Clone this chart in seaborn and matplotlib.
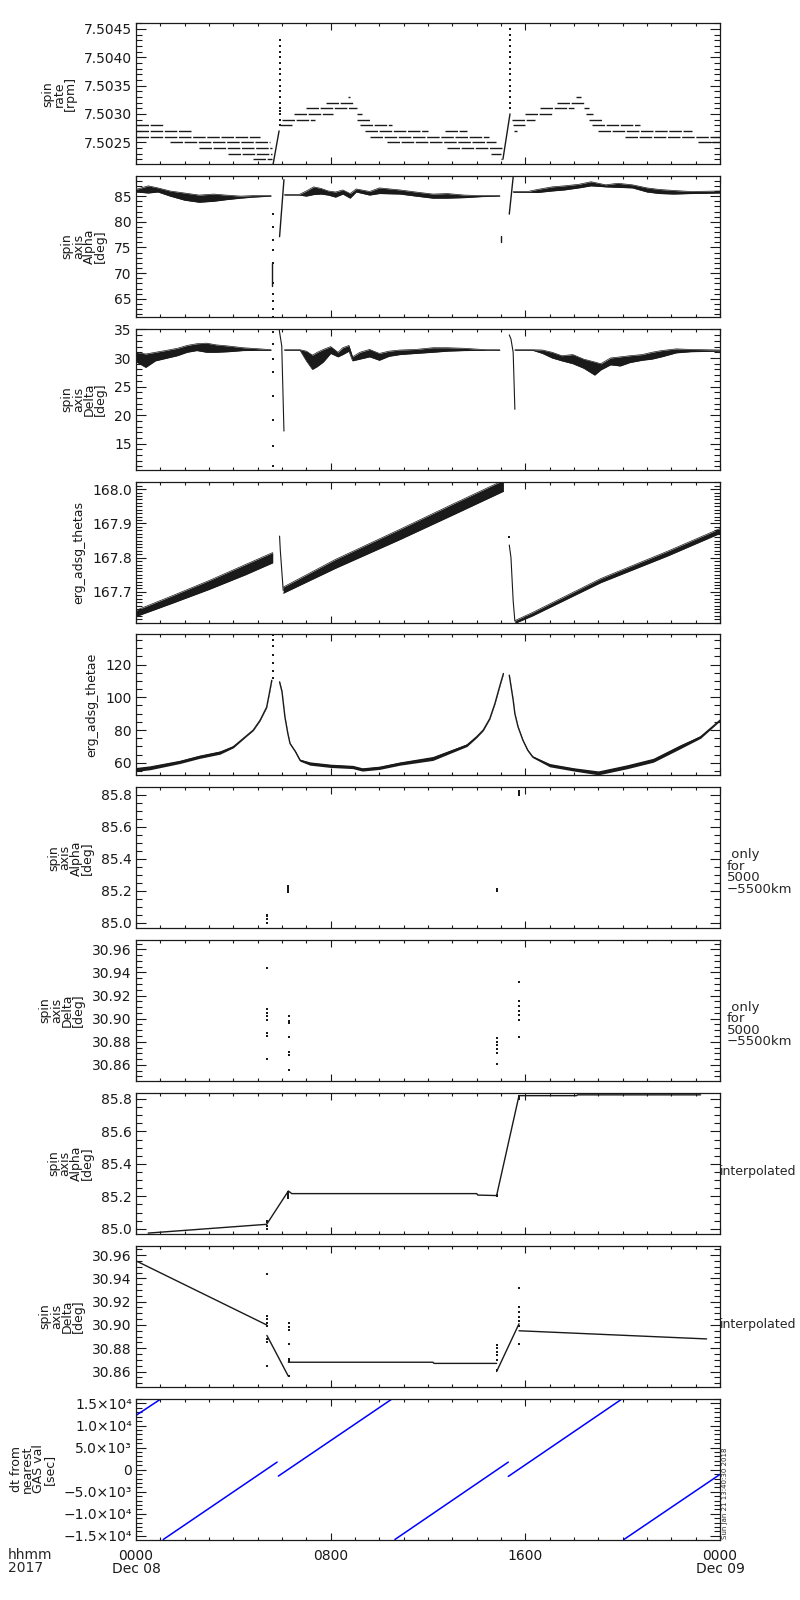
import numpy as np
import pandas as pd
import matplotlib
matplotlib.use("Agg")
import matplotlib.pyplot as plt
import seaborn as sns
from matplotlib.ticker import MultipleLocator, FormatStrFormatter, FixedLocator, FixedFormatter

# ---------------- DATA (hours since 2017-12-08 00:00) ----------------
# Panel 1: spin rate [rpm] quantised levels (level, start hour, end hour)
p1_level = [7.5028, 7.5027, 7.5026, 7.5025, 7.5024, 7.5023, 7.5022,
            7.5028, 7.5029, 7.5030, 7.5031, 7.5032, 7.5033, 7.5030, 7.5029, 7.5028,
            7.5027, 7.5027, 7.5026, 7.5025, 7.5024, 7.5023, 7.5022,
            7.5029, 7.5028, 7.5027, 7.5030, 7.5031, 7.5032, 7.5033, 7.5031, 7.5030,
            7.5029, 7.5028, 7.5027, 7.5026, 7.5025]
p1_start = [0.0, 0.0, 0.0, 1.4, 2.6, 3.8, 4.8,
            5.9, 6.0, 6.5, 7.0, 7.8, 8.7, 9.1, 9.1, 9.2,
            9.4, 12.7, 9.6, 10.3, 12.8, 14.6, 15.0,
            15.45, 15.5, 15.55, 16.0, 16.6, 17.3, 18.1, 18.4, 18.5,
            18.6, 18.75, 19.0, 20.1, 23.1]
p1_end = [1.1, 2.3, 5.1, 5.5, 5.6, 5.6, 5.6,
          6.4, 7.35, 8.1, 9.1, 8.95, 8.8, 9.3, 9.6, 10.5,
          12.0, 13.6, 14.5, 14.8, 15.1, 15.0, 15.06,
          16.4, 16.0, 15.65, 17.1, 18.0, 18.45, 18.3, 18.6, 18.8,
          19.2, 20.7, 22.85, 24.0, 24.0]
p1_ramp1_h = [5.63, 5.88]
p1_ramp1_v = [7.5021, 7.5027]
p1_ramp2_h = [15.08, 15.37]
p1_ramp2_v = [7.5022, 7.5030]
p1_spike1_h = 5.92
p1_spike1_v = [7.5028, 7.5029, 7.5030, 7.50305, 7.5031, 7.5032, 7.5033, 7.5034, 7.5035,
               7.5036, 7.5037, 7.5038, 7.5039, 7.5040, 7.5041, 7.5042, 7.5043]
p1_spike2_h = 15.37
p1_spike2_v = [7.5031, 7.5032, 7.5033, 7.5034, 7.5035, 7.5036, 7.5037, 7.5038, 7.5039,
               7.5040, 7.5041, 7.5042, 7.5043, 7.5044, 7.5045, 7.5046]

# Panel 2: spin axis Alpha [deg], noisy band envelopes
p2a_h = [0.0, 0.5, 0.9, 1.4, 2.0, 2.6, 3.2, 3.7, 4.3, 4.8, 5.55]
p2a_lo = [85.8, 85.6, 85.8, 85.0, 84.2, 83.8, 84.0, 84.3, 84.6, 84.8, 85.0]
p2a_hi = [86.3, 87.0, 86.6, 86.0, 85.6, 85.2, 85.4, 85.2, 85.0, 85.1, 85.1]
p2_drop_h = 5.62
p2_drop_v = [61.5, 63.0, 64.5, 66.0, 68.0, 72.0, 74.5, 76.5, 79.0, 81.5]
p2_ramp1_h = [5.9, 6.08]
p2_ramp1_v = [77.1, 88.2]
p2b_h = [6.1, 6.7, 7.0, 7.3, 7.6, 7.9, 8.2, 8.5, 8.8, 9.05, 9.6, 10.0, 10.85,
         11.5, 12.2, 12.8, 13.5, 14.2, 14.95]
p2b_lo = [85.2, 85.2, 85.0, 85.3, 85.4, 85.2, 84.8, 85.4, 84.6, 85.8, 85.2, 85.5, 85.4,
          85.0, 84.6, 84.6, 84.7, 84.9, 85.0]
p2b_hi = [85.3, 85.3, 86.0, 86.8, 86.5, 86.0, 85.8, 86.2, 85.5, 86.4, 85.9, 86.6, 86.2,
          85.8, 85.4, 85.5, 85.2, 85.1, 85.1]
p2_mark_h = [15.0, 15.0]
p2_mark_v = [76.0, 77.2]
p2_ramp2_h = [15.34, 15.5]
p2_ramp2_v = [81.5, 88.7]
p2c_h = [15.5, 16.1, 16.5, 17.1, 17.6, 18.2, 18.7, 19.3, 19.8, 20.4, 21.0, 21.5,
         22.1, 22.8, 24.0]
p2c_lo = [85.75, 85.75, 85.7, 86.0, 86.2, 86.6, 87.0, 86.8, 86.7, 86.6, 85.8, 85.5,
          85.4, 85.5, 85.6]
p2c_hi = [85.9, 85.9, 86.3, 86.8, 87.0, 87.3, 87.8, 87.2, 87.5, 87.2, 86.6, 86.3,
          86.1, 85.9, 86.0]

# Panel 3: spin axis Delta [deg]
p3a_h = [0.0, 0.4, 0.8, 1.2, 1.7, 2.1, 2.5, 2.9, 3.3, 3.8, 4.4, 5.1, 5.55]
p3a_lo = [29.35, 28.35, 29.5, 29.9, 30.4, 31.0, 31.3, 31.0, 31.0, 31.1, 31.3, 31.35, 31.35]
p3a_hi = [31.0, 30.7, 31.0, 31.3, 31.7, 32.2, 32.5, 32.6, 32.3, 32.1, 31.8, 31.6, 31.45]
p3_drop_h = 5.62
p3_drop_v = [34.5, 32.5, 29.8, 27.5, 23.4, 19.2, 14.5, 11.0]
p3_fall1_h = [5.88, 5.99, 6.08]
p3_fall1_v = [35.1, 32.1, 17.2]
p3b_h = [6.1, 6.74, 7.0, 7.25, 7.45, 7.7, 8.0, 8.3, 8.5, 8.75, 8.9, 9.2, 9.6, 10.0,
         10.4, 10.85, 11.5, 12.2, 12.8, 13.5, 14.4, 14.95]
p3b_lo = [31.35, 31.35, 29.5, 28.0, 28.5, 29.3, 30.8, 30.2, 30.6, 31.2, 29.5, 29.8,
          30.2, 29.6, 30.3, 30.6, 30.8, 31.0, 31.2, 31.3, 31.35, 31.35]
p3b_hi = [31.45, 31.45, 31.2, 30.5, 31.0, 31.5, 32.0, 31.0, 31.8, 32.2, 30.2, 31.0,
          31.5, 30.8, 31.2, 31.4, 31.5, 31.8, 31.8, 31.7, 31.45, 31.45]
p3_fall2_h = [15.34, 15.41, 15.5, 15.57]
p3_fall2_v = [34.05, 33.3, 31.0, 21.0]
p3c_h = [15.57, 16.3, 16.7, 17.1, 17.5, 17.95, 18.4, 18.85, 19.1, 19.5, 19.9, 20.3,
         20.8, 21.2, 21.6, 22.2, 22.8, 24.0]
p3c_lo = [31.35, 31.35, 30.8, 30.0, 29.5, 29.0, 28.2, 27.0, 27.9, 28.8, 28.6, 29.2,
          29.6, 29.8, 30.2, 30.9, 31.1, 31.2]
p3c_hi = [31.45, 31.45, 31.4, 31.0, 30.4, 30.6, 29.8, 29.3, 29.0, 30.0, 30.2, 30.4,
          30.6, 31.0, 31.3, 31.6, 31.5, 31.4]

# Panel 4: erg_adsg_thetas (centre and half-width of the noisy band)
p4a_h = [0.0, 1.5, 3.0, 4.5, 5.62]
p4a_c = [167.637, 167.678, 167.720, 167.765, 167.800]
p4a_w = [0.009, 0.011, 0.013, 0.015, 0.015]
p4_fall1_h = [5.9, 5.93, 6.0, 6.05]
p4_fall1_v = [167.863, 167.822, 167.753, 167.704]
p4b_h = [6.05, 8.2, 10.85, 13.0, 15.1]
p4b_c = [167.705, 167.782, 167.868, 167.940, 168.010]
p4b_w = [0.009, 0.013, 0.015, 0.016, 0.016]
p4_dot2 = (15.34, 167.86)
p4_fall2_h = [15.34, 15.41, 15.5, 15.57]
p4_fall2_v = [167.837, 167.800, 167.674, 167.615]
p4c_h = [15.57, 16.3, 19.1, 21.85, 24.0]
p4c_c = [167.612, 167.635, 167.733, 167.812, 167.878]
p4c_w = [0.004, 0.005, 0.006, 0.007, 0.007]

# Panel 5: erg_adsg_thetae
p5a_h = [0.0, 0.57, 1.8, 2.6, 3.45, 4.0, 4.5, 4.82, 5.1, 5.37, 5.5, 5.58]
p5a_v = [56.0, 57.0, 60.6, 63.7, 66.3, 69.8, 76.0, 80.0, 86.0, 94.0, 104.0, 110.4]
p5a_w = [1.2, 1.2, 1.0, 1.0, 1.0, 0.6, 0.3, 0.3, 0.3, 0.3, 0.3, 0.3]
p5_spike_h = 5.62
p5_spike_v = [112.0, 116.0, 121.0, 126.0, 131.0, 135.0, 138.0]
p5b_h = [5.9, 6.0, 6.12, 6.24, 6.33, 6.55, 6.74, 7.15, 8.0, 8.9, 9.3, 10.0, 10.85,
         12.2, 13.6, 14.0, 14.27, 14.54, 14.75, 14.96, 15.1]
p5b_v = [109.4, 103.4, 88.0, 77.9, 71.8, 66.9, 61.6, 59.6, 58.2, 57.5, 56.0, 57.0, 59.6,
         62.7, 70.8, 75.9, 80.0, 87.0, 96.2, 107.4, 114.5]
p5b_w = [0.3, 0.3, 0.3, 0.3, 0.3, 0.4, 0.6, 1.0, 1.0, 1.0, 1.0, 1.0, 1.0, 1.2, 0.8,
         0.5, 0.4, 0.3, 0.3, 0.3, 0.3]
p5c_h = [15.34, 15.5, 15.57, 15.7, 15.9, 16.1, 16.3, 17.0, 18.0, 19.0, 20.17, 21.26,
         22.36, 23.2, 24.0]
p5c_v = [113.5, 98.3, 90.0, 82.0, 73.8, 67.7, 63.7, 58.6, 56.0, 53.9, 57.6, 61.6,
         69.8, 75.8, 86.0]
p5c_w = [0.3, 0.3, 0.3, 0.3, 0.3, 0.4, 0.5, 1.0, 1.0, 1.2, 1.2, 1.2, 1.2, 0.8, 0.4]

# Panel 6 / 8: spin axis Alpha only for 5000-5500 km (dots)
p6_h = [5.37, 5.37, 5.37, 5.37, 6.26, 6.26, 6.26, 6.26, 6.26, 14.82, 14.82,
        15.74, 15.74, 15.74]
p6_v = [85.00, 85.02, 85.04, 85.05, 85.19, 85.20, 85.21, 85.22, 85.23, 85.20, 85.21,
        85.80, 85.81, 85.82]
# Panel 7 / 9: spin axis Delta only for 5000-5500 km (dots)
p7_h = [5.37, 5.37, 5.37, 5.37, 5.37, 5.37, 5.37, 5.37,
        6.27, 6.27, 6.27, 6.27, 6.27, 6.27, 6.27,
        14.82, 14.82, 14.82, 14.82, 14.82, 14.82,
        15.74, 15.74, 15.74, 15.74, 15.74, 15.74, 15.74]
p7_v = [30.944, 30.908, 30.905, 30.902, 30.899, 30.888, 30.885, 30.865,
        30.902, 30.898, 30.896, 30.884, 30.871, 30.869, 30.856,
        30.883, 30.880, 30.877, 30.874, 30.870, 30.861,
        30.932, 30.915, 30.911, 30.907, 30.903, 30.899, 30.884]

# Panel 8: Alpha interpolated
p8_h = [0.5, 5.37, 6.26, 6.4, 14.0, 14.05, 14.82, 15.74, 18.1, 18.15, 23.2]
p8_v = [84.974, 85.028, 85.233, 85.217, 85.217, 85.208, 85.205, 85.820, 85.820,
        85.825, 85.825]
# Panel 9: Delta interpolated (separate pieces)
p9_seg_h = [[0.0, 5.37], [5.38, 6.26], [6.26, 12.2, 12.25, 14.82], [14.82, 15.74],
            [15.74, 23.45]]
p9_seg_v = [[30.955, 30.900], [30.891, 30.856], [30.868, 30.868, 30.867, 30.867],
            [30.860, 30.901], [30.895, 30.888]]

# Panel 10: dt from nearest GAS val [sec] (segment endpoints)
p10_t0 = [0.0, 1.12, 5.85, 10.64, 15.3, 20.05]
p10_v0 = [12300, -15815, -1450, -15815, -1520, -15815]
p10_t1 = [1.05, 5.8, 10.55, 15.3, 20.0, 24.0]
p10_v1 = [16130, 1720, 16130, 1720, 16130, -1060]

# Axis labels / ticks
ylabels = ["spin\nrate\n[rpm]", "spin\naxis\nAlpha\n[deg]", "spin\naxis\nDelta\n[deg]",
           "erg_adsg_thetas", "erg_adsg_thetae", "spin\naxis\nAlpha\n[deg]",
           "spin\naxis\nDelta\n[deg]", "spin\naxis\nAlpha\n[deg]", "spin\naxis\nDelta\n[deg]",
           "dt from\nnearest\nGAS val\n[sec]"]
ylims = [(7.50211, 7.50460), (61.45, 88.9), (10.4, 35.1), (167.61, 168.022),
         (52.3, 138.3), (84.965, 85.846), (30.846, 30.968), (84.969, 85.837),
         (30.847, 30.968), (-15815, 16130)]
y_major = [0.0005, 5, 5, 0.1, 20, 0.2, 0.02, 0.2, 0.02, 5000]
y_minor = [0.0001, 1, 1, 0.01, 5, 0.05, 0.005, 0.05, 0.005, 1000]
y_fmt = ["%.4f", "%d", "%d", "%.1f", "%d", "%.1f", "%.2f", "%.1f", "%.2f", None]
p10_ticks = [-15000, -10000, -5000, 0, 5000, 10000, 15000]
p10_ticklabels = ["\u22121.5\u00d710\u2074", "\u22121.0\u00d710\u2074", "\u22125.0\u00d710\u00b3",
                  "0", "5.0\u00d710\u00b3", "1.0\u00d710\u2074", "1.5\u00d710\u2074"]
x_major = [0, 8, 16, 24]
x_labels = ["0000\nDec 08", "0800", "1600", "0000\nDec 09"]

# ---------------- PLOT ----------------
sns.set_theme(style="white")
plt.rcParams['font.family'] = ['DejaVu Sans']
plt.rcParams['axes.linewidth'] = 0.9

fig = plt.figure(figsize=(8, 16), dpi=100)
axes = []
for i in range(10):
    top = 23.3 + i * 152.8
    ax = fig.add_axes([136 / 800, 1 - (top + 141) / 1600, 584 / 800, 141 / 1600])
    axes.append(ax)

K = 'k'
def band(ax, h, lo, hi):
    ax.fill_between(h, lo, hi, color=K, lw=0.0)
    ax.plot(h, lo, color=K, lw=0.5)
    ax.plot(h, hi, color=K, lw=0.5)

def line(ax, h, v, lw=1.0, color=K):
    sns.lineplot(x=h, y=v, ax=ax, color=color, lw=lw, estimator=None, sort=False, legend=False)

def dots(ax, h, v, s=2.5):
    sns.scatterplot(x=h, y=v, ax=ax, color=K, s=s, marker='s', linewidth=0, legend=False)

# Panel 1
ax = axes[0]
ax.hlines(p1_level, p1_start, p1_end, color=K, lw=1.0, linestyles=(0, (9, 1.2)))
line(ax, p1_ramp1_h, p1_ramp1_v)
line(ax, p1_ramp2_h, p1_ramp2_v)
dots(ax, [p1_spike1_h] * len(p1_spike1_v), p1_spike1_v)
dots(ax, [p1_spike2_h] * len(p1_spike2_v), p1_spike2_v)

# Panel 2
ax = axes[1]
band(ax, p2a_h, p2a_lo, p2a_hi)
dots(ax, [p2_drop_h] * len(p2_drop_v), p2_drop_v)
line(ax, [5.6, 5.6], [67.5, 72.0])
line(ax, p2_ramp1_h, p2_ramp1_v)
band(ax, p2b_h, p2b_lo, p2b_hi)
line(ax, p2_mark_h, p2_mark_v)
line(ax, p2_ramp2_h, p2_ramp2_v)
band(ax, p2c_h, p2c_lo, p2c_hi)

# Panel 3
ax = axes[2]
band(ax, p3a_h, p3a_lo, p3a_hi)
dots(ax, [p3_drop_h] * len(p3_drop_v), p3_drop_v)
line(ax, p3_fall1_h, p3_fall1_v, lw=0.8)
band(ax, p3b_h, p3b_lo, p3b_hi)
line(ax, p3_fall2_h, p3_fall2_v, lw=0.8)
band(ax, p3c_h, p3c_lo, p3c_hi)

# Panel 4
ax = axes[3]
for h, c, w in [(p4a_h, p4a_c, p4a_w), (p4b_h, p4b_c, p4b_w), (p4c_h, p4c_c, p4c_w)]:
    c = np.array(c); w = np.array(w)
    band(ax, h, c - w, c + w)
line(ax, p4_fall1_h, p4_fall1_v, lw=0.8)
dots(ax, [p4_dot2[0]], [p4_dot2[1]])
line(ax, p4_fall2_h, p4_fall2_v, lw=0.8)

# Panel 5
ax = axes[4]
for h, c, w in [(p5a_h, p5a_v, p5a_w), (p5b_h, p5b_v, p5b_w), (p5c_h, p5c_v, p5c_w)]:
    c = np.array(c); w = np.array(w)
    ax.fill_between(h, c - w, c + w, color=K, lw=0)
    line(ax, h, c, lw=1.0)
dots(ax, [p5_spike_h] * len(p5_spike_v), p5_spike_v)

# Panel 6 / 7
dots(axes[5], p6_h, p6_v, s=2)
dots(axes[6], p7_h, p7_v, s=2)

# Panel 8
line(axes[7], p8_h, p8_v, lw=1.0)
dots(axes[7], p6_h, p6_v, s=2)

# Panel 9
for h, v in zip(p9_seg_h, p9_seg_v):
    line(axes[8], h, v, lw=1.0)
dots(axes[8], p7_h, p7_v, s=2)

# Panel 10
for t0, v0, t1, v1 in zip(p10_t0, p10_v0, p10_t1, p10_v1):
    line(axes[9], [t0, t1], [v0, v1], lw=1.1, color='#0000ff')

# Styling
for i, ax in enumerate(axes):
    ax.set_xlim(0, 24)
    ax.set_ylim(*ylims[i])
    ax.set_facecolor('white')
    for sp in ax.spines.values():
        sp.set_color(K); sp.set_linewidth(0.9); sp.set_visible(True)
    ax.xaxis.set_major_locator(FixedLocator(x_major))
    ax.xaxis.set_minor_locator(MultipleLocator(1))
    if i == 9:
        ax.yaxis.set_major_locator(FixedLocator(p10_ticks))
        ax.yaxis.set_major_formatter(FixedFormatter(p10_ticklabels))
    else:
        ax.yaxis.set_major_locator(MultipleLocator(y_major[i]))
        ax.yaxis.set_major_formatter(FormatStrFormatter(y_fmt[i]))
    ax.yaxis.set_minor_locator(MultipleLocator(y_minor[i]))
    ax.tick_params(axis='both', which='both', direction='in', top=True, right=True,
                   left=True, bottom=True, colors=K, width=0.8, labelsize=10)
    ax.tick_params(axis='y', which='major', length=7.5, pad=3)
    ax.tick_params(axis='y', which='minor', length=4.5)
    ax.tick_params(axis='x', which='major', length=5)
    ax.tick_params(axis='x', which='minor', length=2.5)
    ax.set_xlabel("")
    ax.set_ylabel(ylabels[i], fontsize=9, linespacing=0.82, labelpad=5, color=K)
    if i < 9:
        ax.set_xticklabels([])
    else:
        ax.set_xticklabels(x_labels)
        ax.tick_params(axis='x', which='major', pad=7)
        for t in ax.get_xticklabels():
            t.set_linespacing(0.9)

for i in (5, 6):
    axes[i].text(1.012, 0.40, " only\nfor\n5000\n\u22125500km", transform=axes[i].transAxes,
                 fontsize=9.5, ha='left', va='center', linespacing=0.85)
for i in (7, 8):
    axes[i].text(1.0, 0.443, "interpolated", transform=axes[i].transAxes,
                 fontsize=9, ha='left', va='center', zorder=10)

fig.text(8 / 800, 1 - 1548 / 1600, "hhmm\n2017", fontsize=10, ha='left', va='top',
         linespacing=0.9)
fig.text(725 / 800, 1 - 1539 / 1600, "Sun Jan 21 13:40:30 2018", fontsize=5,
         rotation=90, ha='center', va='bottom')

fig.savefig("out.png", dpi=100, facecolor='white')
